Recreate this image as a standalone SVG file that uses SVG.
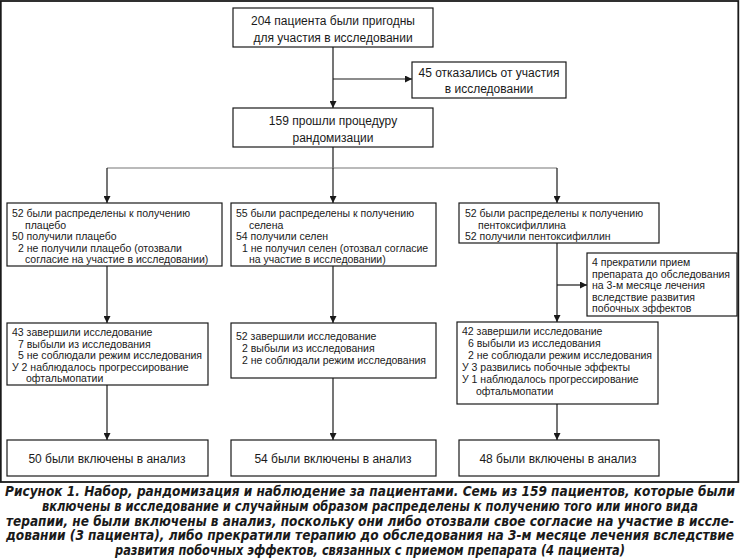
<svg xmlns="http://www.w3.org/2000/svg" width="740" height="559" viewBox="0 0 740 559">
<style>
.box{fill:#fff;stroke:#1a1a1a;stroke-width:1.2}
.t{font-family:"Liberation Sans",Arial,sans-serif;font-size:10.5px;fill:#1a1a1a}
.tb{font-family:"Liberation Sans",Arial,sans-serif;font-size:12px;fill:#1a1a1a;text-anchor:middle}
.ln{fill:none;stroke:#1a1a1a;stroke-width:1.2}
.lg{fill:none;stroke:#777;stroke-width:1.2}
.cap{font-family:"DejaVu Sans Condensed","Liberation Sans",sans-serif;font-size:13.5px;font-weight:bold;font-style:italic;fill:#1a1a1a;text-anchor:middle}
</style>
<defs>
<marker id="ah" viewBox="0 0 10 10" refX="10" refY="5" markerWidth="7" markerHeight="7" markerUnits="userSpaceOnUse" orient="auto">
<path d="M0,0 L10,5 L0,10 Z" fill="#1a1a1a"/>
</marker>
</defs>
<rect x="0.8" y="1" width="737.5" height="481" fill="none" stroke="#1a1a1a" stroke-width="1.8"/>
<g id="connectors">
<path class="ln" d="M333,47 V108" marker-end="url(#ah)"/>
<path class="ln" d="M333,79 H412" marker-end="url(#ah)"/>
<path class="ln" d="M333,147 V168"/>
<path class="lg" d="M107,168 H557"/>
<path class="ln" d="M107,168 V203" marker-end="url(#ah)"/>
<path class="ln" d="M333,168 V203" marker-end="url(#ah)"/>
<path class="ln" d="M557,168 V203" marker-end="url(#ah)"/>
<path class="ln" d="M107,266 V323" marker-end="url(#ah)"/>
<path class="ln" d="M333,266 V323" marker-end="url(#ah)"/>
<path class="ln" d="M557,243 V322" marker-end="url(#ah)"/>
<path class="ln" d="M557,285 H587" marker-end="url(#ah)"/>
<path class="ln" d="M107,385 V440" marker-end="url(#ah)"/>
<path class="ln" d="M333,378 V440" marker-end="url(#ah)"/>
<path class="ln" d="M557,404 V440" marker-end="url(#ah)"/>
</g>
<g id="n1"><rect class="box" x="233" y="8" width="200" height="39"/>
<text class="tb" x="333" y="25">204 пациента были пригодны</text>
<text class="tb" x="333" y="42">для участия в исследовании</text></g>
<g id="n2"><rect class="box" x="412" y="62" width="154" height="36"/>
<text class="tb" x="489" y="77">45 отказались от участия</text>
<text class="tb" x="489" y="93">в исследовании</text></g>
<g id="n3"><rect class="box" x="233" y="108" width="200" height="39"/>
<text class="tb" x="333" y="125">159 прошли процедуру</text>
<text class="tb" x="333" y="142">рандомизации</text></g>
<g id="l1"><rect class="box" x="7" y="203" width="215" height="63"/>
<text class="t" x="12" y="217">52 были распределены к получению</text>
<text class="t" x="25" y="228.5">плацебо</text>
<text class="t" x="12" y="240">50 получили плацебо</text>
<text class="t" x="18" y="251.5">2 не получили плацебо (отозвали</text>
<text class="t" x="25" y="263">согласие на участие в исследовании)</text></g>
<g id="m1"><rect class="box" x="231" y="203" width="205" height="63"/>
<text class="t" x="236" y="217">55 были распределены к получению</text>
<text class="t" x="249" y="228.5">селена</text>
<text class="t" x="236" y="240">54 получили селен</text>
<text class="t" x="242" y="251.5">1 не получил селен (отозвал согласие</text>
<text class="t" x="249" y="263">на участие в исследовании)</text></g>
<g id="r1"><rect class="box" x="459" y="203" width="200" height="40"/>
<text class="t" x="465" y="217">52 были распределены к получению</text>
<text class="t" x="478" y="228.5">пентоксифиллина</text>
<text class="t" x="465" y="240">52 получили пентоксифиллин</text></g>
<g id="s1"><rect class="box" x="587" y="253" width="150" height="63"/>
<text class="t" x="592" y="266">4 прекратили прием</text>
<text class="t" x="592" y="277.5">препарата до обследования</text>
<text class="t" x="592" y="289">на 3-м месяце лечения</text>
<text class="t" x="592" y="300.5">вследствие развития</text>
<text class="t" x="592" y="312">побочных эффектов</text></g>
<g id="l2"><rect class="box" x="7" y="323" width="201" height="62"/>
<text class="t" x="12" y="336">43 завершили исследование</text>
<text class="t" x="18" y="347.5">7 выбыли из исследования</text>
<text class="t" x="18" y="359">5 не соблюдали режим исследования</text>
<text class="t" x="12" y="370.5">У 2 наблюдалось прогрессирование</text>
<text class="t" x="26" y="382">офтальмопатии</text></g>
<g id="m2"><rect class="box" x="231" y="323" width="205" height="55"/>
<text class="t" x="236" y="340">52 завершили исследование</text>
<text class="t" x="242" y="352">2 выбыли из исследования</text>
<text class="t" x="242" y="364">2 не соблюдали режим исследования</text></g>
<g id="r2"><rect class="box" x="457" y="322" width="201" height="82"/>
<text class="t" x="462" y="335">42 завершили исследование</text>
<text class="t" x="468" y="347">6 выбыли из исследования</text>
<text class="t" x="468" y="359">2 не соблюдали режим исследования</text>
<text class="t" x="462" y="371">У 3 развились побочные эффекты</text>
<text class="t" x="462" y="383">У 1 наблюдалось прогрессирование</text>
<text class="t" x="476" y="395">офтальмопатии</text></g>
<g id="l3"><rect class="box" x="7" y="440" width="201" height="36"/>
<text class="tb" x="107" y="463">50 были включены в анализ</text></g>
<g id="m3"><rect class="box" x="231" y="440" width="205" height="36"/>
<text class="tb" x="333" y="463">54 были включены в анализ</text></g>
<g id="r3"><rect class="box" x="459" y="440" width="200" height="36"/>
<text class="tb" x="558" y="463">48 были включены в анализ</text></g>
<g id="caption">
<text class="cap" x="370" y="496" textLength="730" lengthAdjust="spacingAndGlyphs">Рисунок 1. Набор, рандомизация и наблюдение за пациентами. Семь из 159 пациентов, которые были</text>
<text class="cap" x="370" y="510.75" textLength="656" lengthAdjust="spacingAndGlyphs">включены в исследование и случайным образом распределены к получению того или иного вида</text>
<text class="cap" x="370" y="525.5" textLength="728" lengthAdjust="spacingAndGlyphs">терапии, не были включены в анализ, поскольку они либо отозвали свое согласие на участие в иссле-</text>
<text class="cap" x="370" y="540.25" textLength="728" lengthAdjust="spacingAndGlyphs">довании (3 пациента), либо прекратили терапию до обследования на 3-м месяце лечения вследствие</text>
<text class="cap" x="370" y="555" textLength="510" lengthAdjust="spacingAndGlyphs">развития побочных эффектов, связанных с приемом препарата (4 пациента)</text>
</g>
</svg>
